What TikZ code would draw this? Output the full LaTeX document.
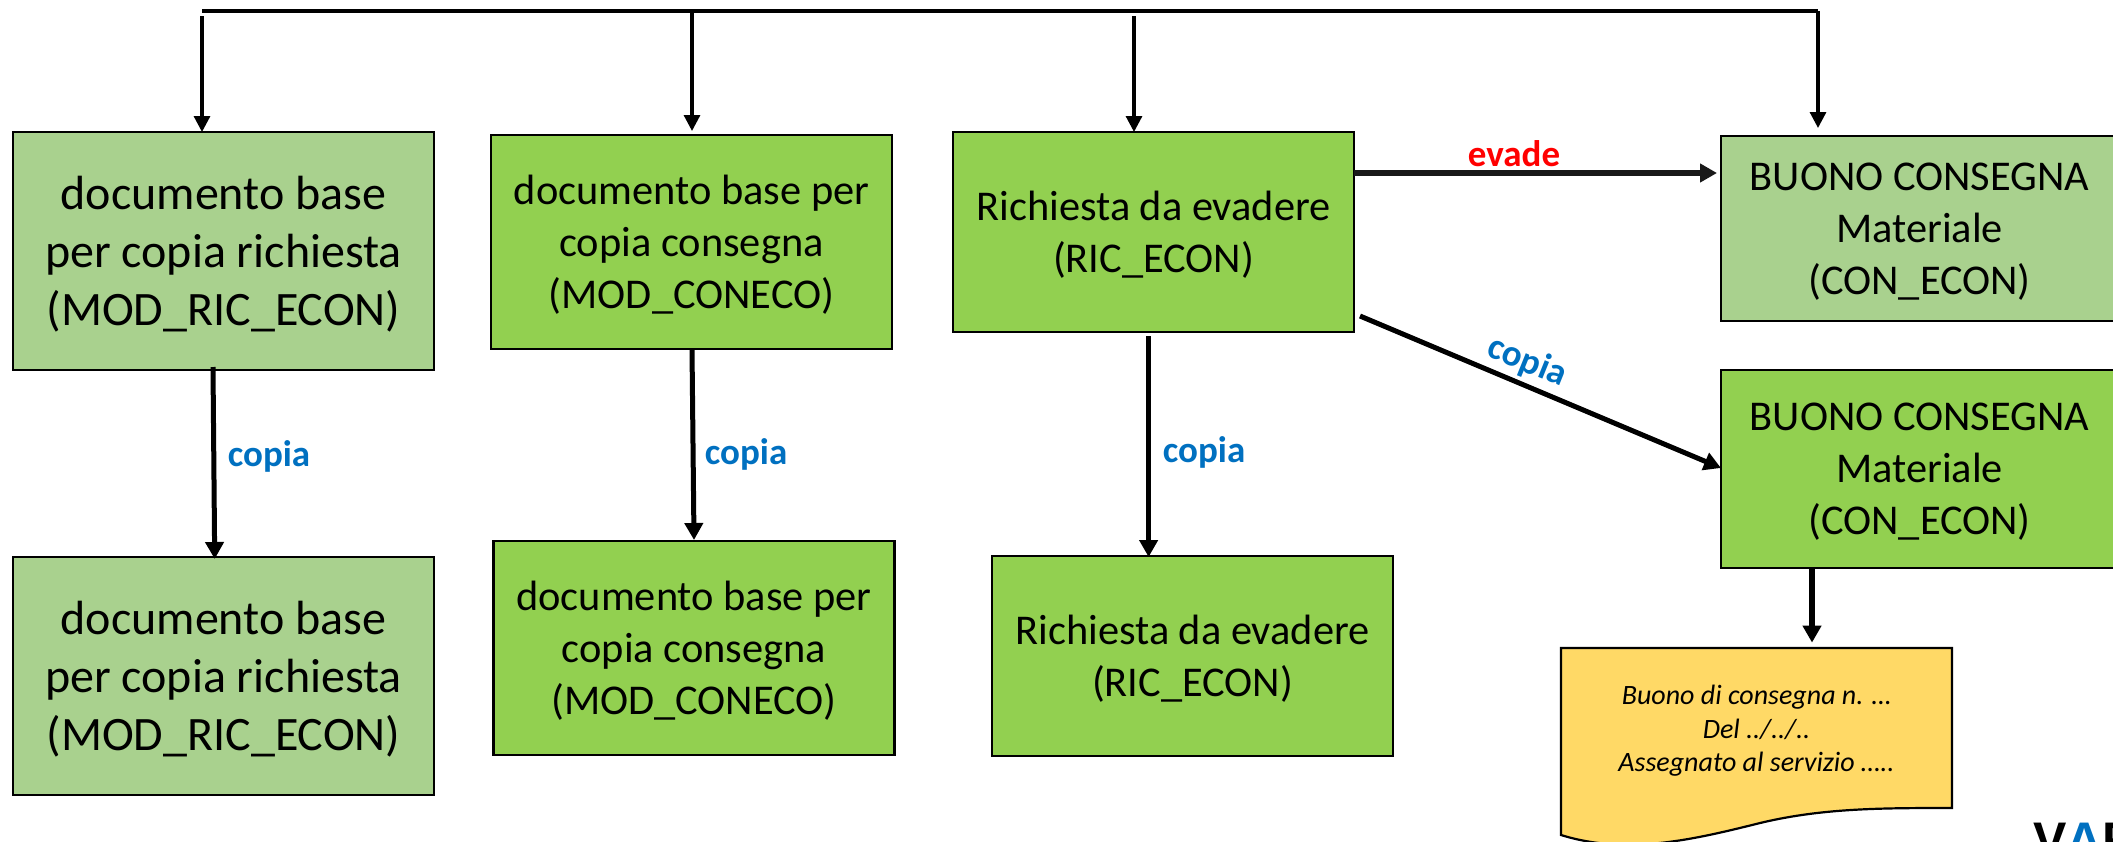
\documentclass[tikz,border=0pt]{standalone}
\usepackage{fontspec}
\setmainfont{Carlito}
\newfontfamily\logofont{Liberation Sans}
\usetikzlibrary{arrows.meta}
\definecolor{lightgreen}{HTML}{A9D18E}
\definecolor{darkgreen}{HTML}{92D050}
\definecolor{formyellow}{HTML}{FFD966}
\definecolor{copyblue}{HTML}{0070C0}
\tikzset{
  docbox/.style={draw=black, line width=1.1pt, inner sep=0pt, outer sep=0pt, align=center},
  lightbox/.style={docbox, fill=lightgreen},
  greenbox/.style={docbox, fill=darkgreen},
  bigtext/.style={font=\fontsize{24}{29}\selectfont, text depth=-1.7pt},
  midtext/.style={font=\fontsize{21.2}{26}\selectfont, text depth=-1pt},
  sizea/.style={bigtext, minimum width=210.5pt, minimum height=119pt},
  sizeb/.style={midtext, minimum width=200.5pt, minimum height=107pt},
  sizec/.style={midtext, minimum width=200.5pt, minimum height=100pt},
  dropline/.style={line width=1.6pt, -{Triangle[length=8pt,width=8pt]}},
  copyline/.style={line width=2.5pt, -{Triangle[length=8.5pt,width=9pt]}},
  copylabel/.style={text=copyblue, font=\fontsize{18.5}{22}\selectfont\bfseries, inner sep=0pt}
}
\begin{document}
\begin{tikzpicture}[x=0.5pt, y=-0.5pt]
  \clip (0,0) rectangle (2113,841);
  % boxes
  \node[lightbox, sizea] (docric) at (223.5,251) {documento base\\per copia richiesta\\(MOD\_RIC\_ECON)};
  \node[lightbox, sizea] (docricb) at (223.5,676) {documento base\\per copia richiesta\\(MOD\_RIC\_ECON)};
  \node[greenbox, sizeb] (modcon) at (691.5,242) {documento base per\\copia consegna\\(MOD\_CONECO)};
  \node[greenbox, sizeb] (modconb) at (694,648) {documento base per\\copia consegna\\(MOD\_CONECO)};
  \node[greenbox, sizec] (ric) at (1153.5,232) {Richiesta da evadere\\(RIC\_ECON)};
  \node[greenbox, sizec] (ricb) at (1192.5,656) {Richiesta da evadere\\(RIC\_ECON)};
  \node[lightbox, midtext, minimum width=198.5pt, minimum height=92.5pt] (buono) at (1919.5,228.5) {BUONO CONSEGNA\\Materiale\\(CON\_ECON)};
  \node[greenbox, midtext, minimum width=198.5pt, minimum height=99pt] (buonob) at (1919.5,469) {BUONO CONSEGNA\\Materiale\\(CON\_ECON)};
  % printed form
  \draw[line width=1.1pt, fill=formyellow] (1561,648) -- (1952,648) -- (1952,808)
    .. controls (1880,808) and (1820,808) .. (1756,824)
    .. controls (1690,840.5) and (1625,855) .. (1561,835) -- cycle;
  \node[align=center, inner sep=0pt, minimum width=195.5pt, minimum height=80pt,
    font=\fontsize{14}{16.7}\selectfont\itshape] (form) at (1756.5,731)
    {Buono di consegna n. …\\Del ../../..\\Assegnato al servizio …..};
  % top line
  \coordinate (topleft) at (202,11);
  \coordinate (topright) at (1818,11);
  \coordinate (dropa) at (202,16);
  \coordinate (dropb) at (692,11);
  \coordinate (dropc) at (1134,16);
  \draw[line width=2pt] (topleft) -- (topright);
  \draw[dropline] (dropa) -- (dropa |- docric.north);
  \draw[dropline, shorten >=2pt] (dropb) -- (dropb |- modcon.north);
  \draw[dropline] (dropc) -- (dropc |- ric.north);
  \draw[dropline, shorten >=4pt] (topright) -- (topright |- buono.north);
  % copies
  \draw[copyline] ([xshift=-5.25pt,yshift=1.5pt]docric.south) -- ([xshift=-4.4pt,yshift=-1pt]docricb.north);
  \draw[copyline] ([xshift=0.25pt]modcon.south) -- ([yshift=0.5pt]modconb.north);
  \draw[copyline] ([xshift=-2.45pt,yshift=-2pt]ric.south) -- ([xshift=-21.95pt,yshift=-0.5pt]ricb.north);
  \draw[copyline, line width=3pt, black!90] ([yshift=29.5pt]ric.east) -- ([xshift=-2pt,yshift=27.75pt]buono.west);
  \draw[copyline] ([xshift=3pt,yshift=8pt]ric.south east) -- ([yshift=0.5pt]buonob.west);
  \draw[copyline, line width=3pt] ([xshift=-53.75pt]buonob.south) -- ([xshift=27.75pt,yshift=4pt]form.north);
  % labels
  \node[copylabel] (copya) at (269,456) {copia};
  \node[copylabel] (copyb) at (746,454) {copia};
  \node[copylabel] (copyc) at (1204,452) {copia};
  \node[copylabel, rotate=-22] (copyd) at (1527,362) {copia};
  \node[copylabel, text=red] (evade) at (1514,154) {evade};
  % logo
  \node[anchor=base west, inner sep=0pt, font=\logofont\fontsize{25}{30}\selectfont\bfseries] (logo) at (2033,857)
    {V\textcolor{copyblue}{A}R};
\end{tikzpicture}
\end{document}
